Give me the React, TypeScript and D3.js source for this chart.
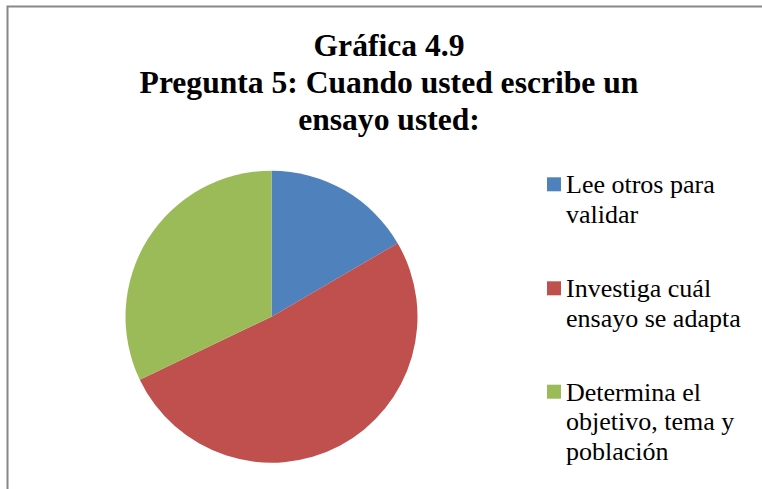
import React, { useEffect, useRef } from "react";
import * as d3 from "d3";

// answer categories and their share
const categories = [
  ["Lee otros para", "validar"],
  ["Investiga cuál", "ensayo se adapta"],
  ["Determina el", "objetivo, tema y", "población"],
];
const values = [16.6, 51.3, 32.1];
const colors = ["#4F81BD", "#C0504D", "#9BBB59"];
const titleLines = ["Gráfica 4.9", "Pregunta 5: Cuando usted escribe un", "ensayo usted:"];

const W = 762;
const H = 489;

export default function App() {
  const ref = useRef<SVGSVGElement>(null);

  useEffect(() => {
    const svg = d3.select(ref.current);
    svg.selectAll("*").remove();

    // chart frame (only left and top edges are visible)
    svg.append("path")
      .attr("d", `M7.5,${H} L7.5,6.5 L${W},6.5`)
      .attr("fill", "none")
      .attr("stroke", "#878787")
      .attr("stroke-width", 2);

    // title
    const title = svg.append("text")
      .attr("text-anchor", "middle")
      .style("font-family", "'Liberation Serif', 'Times New Roman', serif")
      .style("font-weight", "bold")
      .style("font-size", "31.6px")
      .attr("fill", "#000");
    titleLines.forEach((t, i) => {
      title.append("tspan")
        .attr("x", 389)
        .attr("y", 56 + i * 37)
        .text(t);
    });

    // pie
    const cx = 271.5, cy = 316.7, r = 146;
    const pie = d3.pie<number>().sort(null).value(d => d);
    const arc = d3.arc<d3.PieArcDatum<number>>().innerRadius(0).outerRadius(r);

    svg.append("g")
      .attr("transform", `translate(${cx},${cy})`)
      .selectAll("path")
      .data(pie(values))
      .enter().append("path")
      .attr("d", arc)
      .attr("fill", (d, i) => colors[i]);

    // legend
    const legend = svg.append("g");
    const firstBase = [193.3, 297.3, 400.7];
    categories.forEach((lines, i) => {
      const base = firstBase[i];
      legend.append("rect")
        .attr("x", 547)
        .attr("y", base - 16)
        .attr("width", 14)
        .attr("height", 14)
        .attr("fill", colors[i]);
      const txt = legend.append("text")
        .style("font-family", "'Liberation Serif', 'Times New Roman', serif")
        .style("font-size", "26px")
        .attr("fill", "#000");
      lines.forEach((l, j) => {
        txt.append("tspan")
          .attr("x", 566)
          .attr("y", base + j * 29.5)
          .text(l);
      });
    });
  }, []);

  return (
    <svg
      ref={ref}
      width={W}
      height={H}
      style={{ position: "absolute", left: 0, top: 0, background: "#fff" }}
    />
  );
}
